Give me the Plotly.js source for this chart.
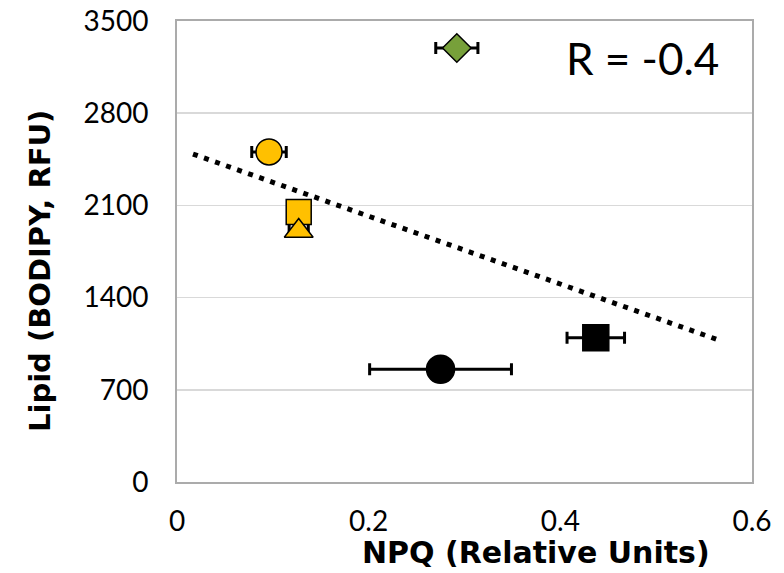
<!DOCTYPE html>
<html>
<head>
<meta charset="utf-8">
<script src="https://cdn.plot.ly/plotly-3.0.1.min.js"></script>
<style>html,body{margin:0;padding:0;background:#fff;}#chart{width:784px;height:573px;}</style>
</head>
<body>
<div id="chart"></div>
<script>
// Data
const npq      = [0.292, 0.096, 0.127, 0.127, 0.275, 0.437];
const npqErr   = [0.022, 0.018, 0.008, 0.010, 0.074, 0.030];
const lipid    = [3295, 2506, 2050, 1905, 856, 1096];
const symbols  = ['diamond', 'circle', 'square', 'triangle-up', 'circle', 'square'];
const colors   = ['#77A03A', '#FFC000', '#FFC000', '#FFC000', '#000000', '#000000'];
const sizes    = [22, 26, 25, 25, 28, 26];
const trendX   = [0.0167, 0.567];
const trendY   = [2490, 1073];
const yTicks   = [0, 700, 1400, 2100, 2800, 3500];
const xTicks   = [0, 0.2, 0.4, 0.6];
const xTickText = ['0', '0.2', '0.4', '0.6'];

const FONT = 'Lato, "Open Sans", sans-serif';
const TFONT = '"DejaVu Sans", Lato, sans-serif';

const traces = [
  {
    x: trendX, y: trendY, type: 'scatter', mode: 'lines',
    line: {color: '#000', width: 5, dash: '5px,6.7px'},
    hoverinfo: 'skip', showlegend: false
  }
];
for (let i = 0; i < npq.length; i++) {
  traces.push({
    x: [npq[i]], y: [lipid[i]], type: 'scatter', mode: 'markers',
    error_x: {type: 'data', array: [npqErr[i]], visible: true, color: '#000', thickness: 3, width: 6},
    marker: {symbol: symbols[i], color: colors[i], size: sizes[i], line: {color: '#000', width: 1.5}},
    showlegend: false
  });
}

const layout = {
  width: 784, height: 573,
  margin: {l: 177, r: 32, t: 21, b: 91, pad: 0},
  paper_bgcolor: '#fff', plot_bgcolor: '#fff',
  font: {family: FONT, color: '#000', size: 28},
  showlegend: false,
  xaxis: {
    range: [0, 0.6], tickvals: xTicks, ticktext: xTickText,
    showgrid: false, zeroline: false,
    showline: true, linecolor: '#ababab', linewidth: 2, mirror: true,
    ticks: '', ticklabelstandoff: 13,
    tickfont: {family: FONT, size: 28, color: '#000'}
  },
  yaxis: {
    range: [0, 3500], tickvals: yTicks,
    showgrid: true, gridcolor: '#d9d9d9', gridwidth: 1.5, zeroline: false,
    showline: true, linecolor: '#ababab', linewidth: 2, mirror: true,
    ticks: '', ticklabelstandoff: 21,
    tickfont: {family: FONT, size: 28, color: '#000'}
  },
  annotations: [
    {text: '<b>NPQ (Relative Units)</b>', xref: 'paper', yref: 'paper', x: 0.624, y: -0.152,
     xanchor: 'center', yanchor: 'middle', showarrow: false, font: {family: TFONT, size: 30, color: '#000'}},
    {text: '<b>Lipid (BODIPY, RFU)</b>', xref: 'paper', yref: 'paper', x: -0.238, y: 0.458,
     xanchor: 'center', yanchor: 'middle', textangle: -90, showarrow: false, font: {family: TFONT, size: 29, color: '#000'}},
    {text: 'R = -0.4', xref: 'paper', yref: 'paper', x: 0.809, y: 0.92,
     xanchor: 'center', yanchor: 'middle', showarrow: false, font: {family: FONT, size: 44, color: '#000'}}
  ]
};

Plotly.newPlot('chart', traces, layout, {displayModeBar: false, staticPlot: true});
</script>
</body>
</html>
